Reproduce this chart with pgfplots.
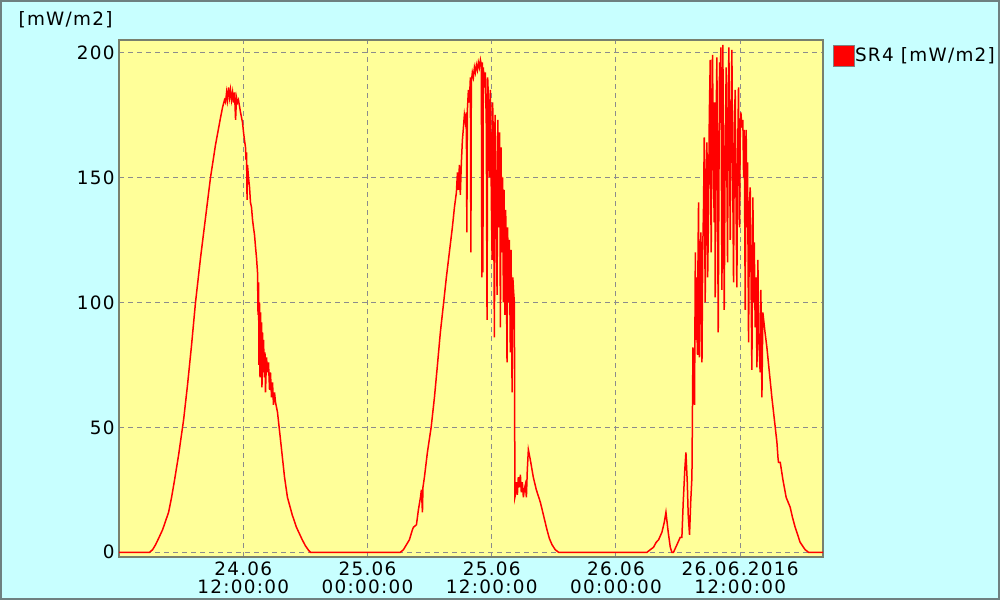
\documentclass[border=0pt]{standalone}
\usepackage{pgfplots}
\pgfplotsset{compat=1.18}
\usepackage{fontspec}
\setmainfont{DejaVu Sans}[LetterSpace=7]
\definecolor{bgc}{RGB}{200,255,255}
\definecolor{plotbg}{RGB}{255,255,153}
\definecolor{framec}{RGB}{120,128,110}
\definecolor{outerc}{RGB}{110,128,128}
\definecolor{gridc}{RGB}{140,140,140}
\begin{document}
\begin{tikzpicture}[font=\fontsize{9.2}{8.7}\selectfont]
\useasboundingbox (0,0) rectangle (500pt,300pt);
\fill[bgc] (0,0) rectangle (500pt,300pt);
\draw[outerc, line width=1pt] (0.5pt,0.5pt) rectangle (499.5pt,299.5pt);
\begin{axis}[
 at={(59.5pt,21.5pt)}, anchor=south west, scale only axis,
 width=352pt, height=258.5pt,
 xmin=0, xmax=68, ymin=-1.9, ymax=205,
 axis background/.style={fill=plotbg},
 axis line style={framec, line width=1pt},
 xtick={12,24,36,48,60},
 xticklabels={{24.06\\12:00:00},{25.06\\00:00:00},{25.06\\12:00:00},{26.06\\00:00:00},{26.06.2016\\12:00:00}},
 ytick={0,50,100,150,200},
 major tick length=0pt,
 grid=major,
 major grid style={gridc, dash pattern=on 2.5pt off 2pt, line width=0.5pt},
 /pgf/number format/assume math mode=true,
 xticklabel style={align=center, inner sep=0pt, yshift=-2.35pt, font=\fontsize{9.2}{8.7}\selectfont},
 yticklabel style={inner sep=0pt, xshift=-2pt},
 legend style={at={(1.0142,0.991)}, anchor=north west, draw=none, fill=none, inner sep=0pt,
   nodes={inner sep=0pt, anchor=west}, font=\fontsize{9.2}{8.7}\selectfont},
 legend cell align=left,
 legend image code/.code={\draw[fill=red, draw=gray, line width=0.5pt] (0pt,-5.15pt) rectangle (10.3pt,5.15pt);},
]
\addplot[red, line width=0.75pt] table[x=t, y=v] {
t v
0 0
2.95 0
3.24 1
3.53 3
3.82 5.5
4.21 9
4.50 12.5
4.79 16
5.08 22
5.37 29
5.76 39
6.24 53
6.62 67
7.01 83
7.39 100
7.88 118
8.36 134
8.84 150
9.32 163
9.81 174
10.00 178
10.19 181
10.29 180
10.39 184
10.48 181
10.58 186
10.68 182
10.77 185
10.87 181
10.97 184
11.06 180
11.16 184
11.26 173
11.35 182
11.45 180
11.54 181
11.74 176
11.93 172
12.03 168
12.12 165
12.22 162
12.27 157
12.32 160
12.37 141
12.41 155
12.51 150
12.61 146
12.70 140
12.80 138
12.90 133
12.99 130
13.09 127
13.19 122
13.28 118
13.38 112
13.43 95
13.48 108
13.52 75
13.57 100
13.62 70
13.67 96
13.72 82
13.77 92
13.81 66
13.86 88
13.91 72
13.96 85
14.05 70
14.10 80
14.15 64
14.25 78
14.34 72
14.44 76
14.54 65
14.63 72
14.73 62
14.83 68
14.92 59
15.02 64
15.12 60
15.31 56
15.60 45
15.99 30
16.27 22
16.73 15
17.14 10
17.70 5
18.02 2.5
18.31 0.8
18.50 0
27.18 0
27.47 1
27.76 3
28.05 5
28.34 9
28.44 10
28.73 11
28.92 17
29.12 22
29.21 25
29.31 16
29.36 26
29.50 30
29.79 40
30.15 50
30.47 62
30.76 75
31.04 88
31.36 100
31.62 110
31.91 120
32.20 130
32.40 138
32.59 144
32.69 152
32.78 145
32.88 155
32.97 143
33.07 156
33.17 165
33.27 170
33.36 175
33.46 172
33.55 176
33.60 128
33.65 177
33.75 185
33.84 180
33.94 190
33.99 120
34.03 188
34.13 192
34.23 190
34.33 194
34.42 192
34.52 195
34.62 193
34.71 196
34.81 194
34.91 197
35.00 195
35.05 110
35.10 196
35.15 112
35.19 194
35.29 186
35.39 192
35.48 170
35.55 93
35.61 190
35.68 182
35.77 150
35.87 185
35.97 140
36.04 117
36.09 180
36.16 165
36.26 86
36.32 175
36.40 150
36.52 103
36.59 173
36.69 130
36.77 168
36.84 90
36.90 162
36.98 120
37.06 150
37.13 100
37.19 145
37.27 95
37.35 137
37.42 110
37.48 76
37.54 130
37.61 100
37.70 125
37.80 80
37.87 121
37.97 64
38.04 110
38.12 104
38.19 100
38.24 22
38.29 23
38.38 28
38.48 23
38.57 30
38.67 26
38.77 31
38.86 24
38.96 28
39.06 22
39.15 25
39.25 27
39.35 22
39.44 33
39.54 41
39.73 37
40.02 30
40.31 25
40.70 20
40.99 15
41.34 9
41.57 5.5
41.83 3
42.14 1
42.46 0
51.00 0
51.31 1
51.63 2
51.89 4
52.12 5
52.44 8
52.67 12
52.83 16
53.05 8
53.25 2
53.41 0
53.56 0
53.89 3
54.21 6
54.37 6
54.50 20
54.65 33
54.76 40
54.89 28
54.98 15
55.11 7
55.22 20
55.34 30
55.44 82
55.52 70
55.59 59
55.67 120
55.72 85
55.76 110
55.82 90
55.88 79
55.93 120
55.98 140
56.03 100
56.07 78
56.14 115
56.21 128
56.26 95
56.31 76
56.38 120
56.46 138
56.53 166
56.58 130
56.62 100
56.70 150
56.79 164
56.86 110
56.94 135
57.02 175
57.11 197
57.15 150
57.20 120
57.27 170
57.33 199
57.40 160
57.49 132
57.54 180
57.59 102
57.67 170
57.75 198
57.82 140
57.88 88
57.95 150
58.01 196
58.08 190
58.14 202
58.19 150
58.24 105
58.28 170
58.33 203
58.40 140
58.46 97
58.55 160
58.65 194
58.72 150
58.78 116
58.85 180
58.91 202
58.98 160
59.04 125
59.12 175
59.20 201
59.28 150
59.36 108
59.44 170
59.52 185
59.60 140
59.68 106
59.76 160
59.84 186
59.94 130
60.00 165
60.07 176
60.17 170
60.26 173
60.33 150
60.39 169
60.49 97
60.58 169
60.65 130
60.71 156
60.81 84
60.90 140
60.97 146
61.05 110
61.13 73
61.23 142
61.30 100
61.36 124
61.45 90
61.53 110
61.62 74
61.71 117
61.80 85
61.93 72
62.00 105
62.10 62
62.19 96
62.40 88
62.58 82
63.06 62
63.55 44
63.65 38
63.70 36
63.87 36
64.13 29
64.44 22
64.83 18
65.05 14
65.31 10
65.55 7
65.79 4
66.03 2.5
66.28 1
66.60 0
68.00 0
};
\addlegendentry{SR4 [mW/m2]}
\end{axis}
\node[anchor=base east, inner sep=0pt] at (56.5pt,287pt) {[mW/m2]};
\end{tikzpicture}
\end{document}
